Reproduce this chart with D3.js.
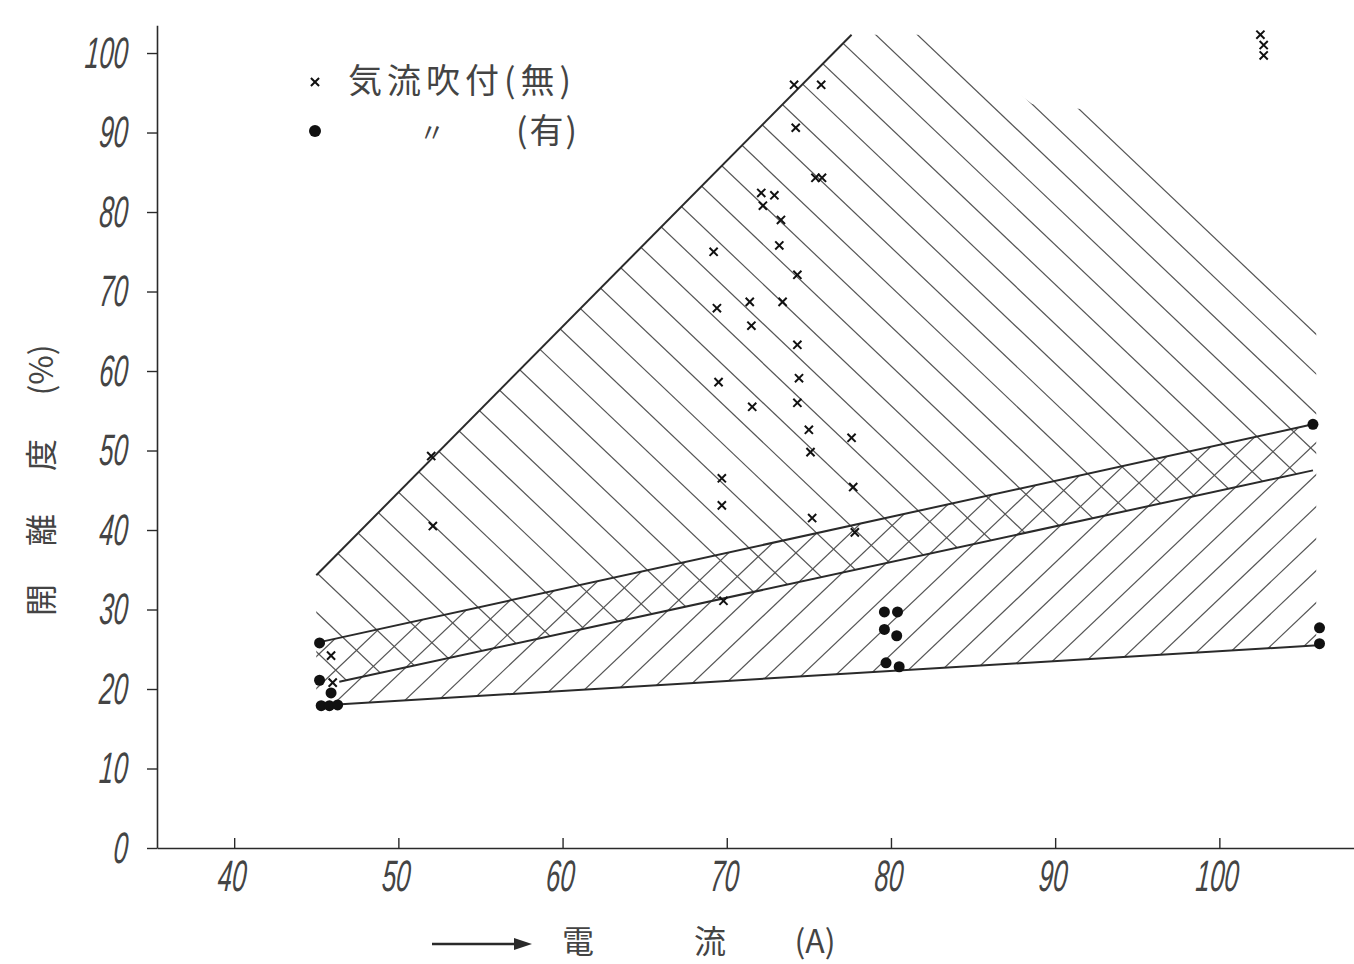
<!DOCTYPE html>
<html>
<head>
<meta charset="utf-8">
<script src="https://cdn.jsdelivr.net/npm/d3@7"></script>
<style>
body{margin:0;background:#fff;}
svg{display:block;}
</style>
</head>
<body>
<svg id="chart"></svg>
<script>
// tick labels
var xTicks = [40, 50, 60, 70, 80, 90, 100];
var yTicks = [0, 10, 20, 30, 40, 50, 60, 70, 80, 90, 100];

// boundary lines, [current A, percent]
var lineTop = [[45, 34.3], [77.6, 102.3]];
var lineUpper = [[45, 25.8], [105.7, 53.3]];
var lineLower = [[46.4, 20.9], [105.7, 47.5]];
var lineBottom = [[45, 17.9], [106, 25.5]];

// hatched zones
var zoneNo = [[45, 34.3], [77.6, 102.3], [82.9, 102.3], [88.6, 93.6], [92.3, 92.8],
              [105.9, 65.8], [105.9, 47.6], [46.4, 20.9], [45, 23]];
var zoneYes = [[45, 25.8], [105.9, 53.4], [105.9, 25.5], [45, 17.9]];

// measured points, no air blast (x marks)
var pointsNo = [[74.1, 96.0], [75.75, 96.0], [74.2, 90.6], [75.4, 84.3], [75.8, 84.3],
                [72.1, 82.4], [72.9, 82.1], [72.2, 80.8], [73.3, 79.0], [73.2, 75.8],
                [69.2, 75.0], [74.3, 72.1], [71.4, 68.7], [73.4, 68.7], [69.4, 67.9],
                [71.5, 65.7], [74.3, 63.3], [74.4, 59.1], [69.5, 58.6], [71.55, 55.5],
                [74.3, 56.0], [75.0, 52.6], [77.6, 51.6], [75.1, 49.8], [69.7, 46.5],
                [77.7, 45.4], [69.7, 43.1], [75.2, 41.5], [52.0, 49.3], [52.1, 40.5],
                [77.8, 39.7], [69.8, 31.1], [45.9, 24.2], [46.0, 20.8],
                [102.5, 102.3], [102.7, 101.0], [102.7, 99.7]];
// measured points, with air blast (dots)
var pointsYes = [[45.2, 25.8], [45.2, 21.1], [45.9, 19.5], [45.3, 17.9], [45.8, 17.9],
                 [46.3, 18.0], [79.6, 29.7], [80.4, 29.7], [79.6, 27.5], [80.35, 26.7],
                 [79.7, 23.3], [80.5, 22.8], [105.7, 53.3], [106.1, 27.7], [106.1, 25.7]];

var width = 1354, height = 964;
var ink = '#2a2a2a';

var svg = d3.select('#chart')
    .attr('width', width)
    .attr('height', height);

// scales
var x = d3.scaleLinear().domain([35.3, 108.2]).range([157, 1354]);
var y = d3.scaleLinear().domain([0, 103.5]).range([848, 25.2]);

var line = d3.line()
    .x(function(d) { return x(d[0]); })
    .y(function(d) { return y(d[1]); });

// clip paths for the two hatched zones
var defs = svg.append('defs');
defs.append('clipPath').attr('id', 'clipNo')
    .append('path').attr('d', line(zoneNo) + 'Z');
defs.append('clipPath').attr('id', 'clipYes')
    .append('path').attr('d', line(zoneYes) + 'Z');

// hatch lines y = slope*x + c, clipped to a zone
function hatch(clipId, slope, c0, step, k0, k1){
    var cs = d3.range(k0, k1).map(function(k) { return c0 + k * step; });
    svg.append('g')
        .attr('clip-path', 'url(#' + clipId + ')')
        .selectAll('line')
        .data(cs)
        .join('line')
        .attr('x1', 0)
        .attr('y1', function(c) { return c; })
        .attr('x2', width)
        .attr('y2', function(c) { return slope * width + c; })
        .attr('stroke', '#555')
        .attr('stroke-width', 1.2);
}
hatch('clipNo', 0.95, -916, 39.6, -20, 60);
hatch('clipYes', -0.95, 1757, 32, -60, 25);

// boundary lines
[lineTop, lineUpper, lineLower, lineBottom].forEach(function(l){
    svg.append('path')
        .datum(l)
        .attr('fill', 'none')
        .attr('stroke', ink)
        .attr('stroke-width', 2)
        .attr('d', line);
});

// axes
var xAxis = svg.append('g')
    .attr('transform', 'translate(0,' + y(0) + ')')
    .call(d3.axisBottom(x)
        .tickValues(xTicks)
        .tickSizeInner(-10)
        .tickSizeOuter(0)
        .tickPadding(12));

var yAxis = svg.append('g')
    .attr('transform', 'translate(' + x.range()[0] + ',0)')
    .call(d3.axisLeft(y)
        .tickValues(yTicks)
        .tickSizeInner(10)
        .tickSizeOuter(0));

[xAxis, yAxis].forEach(function(a){
    a.select('.domain').attr('stroke', ink).attr('stroke-width', 1.6);
    a.selectAll('.tick line').attr('stroke', ink).attr('stroke-width', 1.4);
    a.selectAll('.tick text')
        .attr('fill', '#444')
        .style('font-family', '"Liberation Sans", Arial, sans-serif')
        .style('font-style', 'italic')
        .style('font-size', '44px')
        .attr('transform', 'scale(0.58,1) skewX(-8)');
});
yAxis.selectAll('.tick text').attr('x', -29 / 0.58);

// x marks (no air blast)
svg.append('g')
    .selectAll('path')
    .data(pointsNo)
    .join('path')
    .attr('transform', function(d) { return 'translate(' + x(d[0]) + ',' + y(d[1]) + ')'; })
    .attr('d', d3.symbol().type(d3.symbolX).size(45))
    .attr('fill', 'none')
    .attr('stroke', '#111')
    .attr('stroke-width', 2);

// dots (air blast)
svg.append('g')
    .selectAll('circle')
    .data(pointsYes)
    .join('circle')
    .attr('cx', function(d) { return x(d[0]); })
    .attr('cy', function(d) { return y(d[1]); })
    .attr('r', 5.5)
    .attr('fill', '#111');

// legend
var jp = '"Noto Sans CJK JP", sans-serif';
var legend = svg.append('g').style('font-family', jp).attr('fill', '#444');
legend.append('path')
    .attr('transform', 'translate(315,82)')
    .attr('d', d3.symbol().type(d3.symbolX).size(45))
    .attr('stroke', '#111').attr('stroke-width', 2);
legend.append('text').attr('x', 348).attr('y', 93)
    .style('font-size', '34px').style('letter-spacing', '5px')
    .text('気流吹付(無)');
legend.append('circle').attr('cx', 315).attr('cy', 131).attr('r', 6).attr('fill', '#111');
legend.append('text').attr('x', 432).attr('y', 142).attr('text-anchor', 'middle')
    .style('font-size', '26px').text('〃');
legend.append('text').attr('x', 516).attr('y', 143)
    .style('font-size', '34px').style('letter-spacing', '2px')
    .text('(有)');

// y axis title, read bottom to top
var yTitle = svg.append('g')
    .attr('transform', 'translate(42,485) rotate(-90)')
    .style('font-family', jp)
    .style('font-size', '32px')
    .attr('fill', '#444');
[['開', -115], ['離', -45], ['度', 30], ['(%)', 115]].forEach(function(t){
    yTitle.append('text')
        .attr('x', t[1])
        .attr('y', 11)
        .attr('text-anchor', 'middle')
        .text(t[0]);
});

// x axis title with arrow
var xTitle = svg.append('g').style('font-family', jp).attr('fill', '#444');
xTitle.append('line')
    .attr('x1', 432).attr('y1', 944).attr('x2', 518).attr('y2', 944)
    .attr('stroke', ink).attr('stroke-width', 2.5);
xTitle.append('path')
    .attr('d', 'M532,944 L514,938 L514,950 Z')
    .attr('fill', ink);
[['電', 578], ['流', 710], ['(A)', 815]].forEach(function(t){
    xTitle.append('text')
        .attr('x', t[1])
        .attr('y', 953)
        .attr('text-anchor', 'middle')
        .style('font-size', '32px')
        .text(t[0]);
});
</script>
</body>
</html>
